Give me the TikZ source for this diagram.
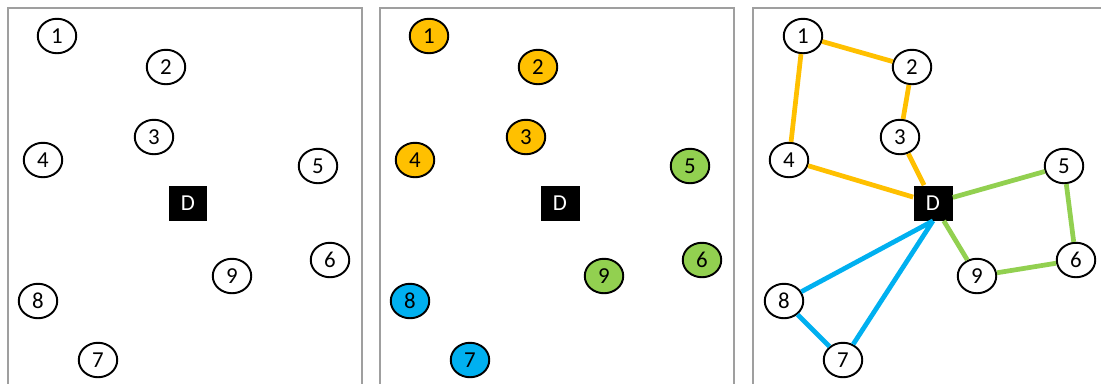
\documentclass[tikz,border=0pt]{standalone}
\usepackage{fontspec}
\setmainfont{Carlito}
\usetikzlibrary{shapes.geometric}
\definecolor{routeorange}{HTML}{FFC000}
\definecolor{routegreen}{HTML}{92D050}
\definecolor{routeblue}{HTML}{00B0F0}

\begin{document}
\begin{tikzpicture}[
    x=0.02cm, y=-0.02cm,
    customer/.style={ellipse, draw, line width=1.1pt, fill=white, minimum width=0.77cm, minimum height=0.69cm, inner sep=0pt, font=\fontsize{13}{15}\selectfont},
    depot/.style={rectangle, fill=black, text=white, minimum width=0.78cm, minimum height=0.7cm, inner sep=0pt, font=\fontsize{13}{15}\selectfont},
    panel/.style={draw=gray!75, line width=0.8pt},
    route/.style={line width=2.7pt}
]
\clip (0,0) rectangle (1101,383);
\fill[white] (0,0) rectangle (1101,383);

% Panels
\draw[panel] (8,400) -- (8,8) -- (362,8) -- (362,400);
\draw[panel] (380,400) -- (380,8) -- (734,8) -- (734,400);
\draw[panel] (753,400) -- (753,8) -- (1107,8) -- (1107,400);

% Panel 1: customers and depot
\node[depot] (aD) at (188,203) {D};
\node[customer] (a1) at (57,36) {1};
\node[customer] (a2) at (166,67) {2};
\node[customer] (a3) at (154,137) {3};
\node[customer] (a4) at (43,160) {4};
\node[customer] (a5) at (318,166) {5};
\node[customer] (a6) at (330,260) {6};
\node[customer] (a7) at (98,360) {7};
\node[customer] (a8) at (38,301) {8};
\node[customer] (a9) at (232,276) {9};

% Panel 2: clusters
\node[depot] (bD) at (560,203) {D};
\node[customer, fill=routeorange] (b1) at (429,36) {1};
\node[customer, fill=routeorange] (b2) at (538,67) {2};
\node[customer, fill=routeorange] (b3) at (526,137) {3};
\node[customer, fill=routeorange] (b4) at (415,160) {4};
\node[customer, fill=routegreen] (b5) at (690,166) {5};
\node[customer, fill=routegreen] (b6) at (702,260) {6};
\node[customer, fill=routeblue] (b7) at (470,360) {7};
\node[customer, fill=routeblue] (b8) at (410,301) {8};
\node[customer, fill=routegreen] (b9) at (604,276) {9};

% Panel 3: routes
\node[depot] (cD) at (933,203) {D};
\node[customer] (c1) at (803,36) {1};
\node[customer] (c2) at (912,67) {2};
\node[customer] (c3) at (900,137) {3};
\node[customer] (c4) at (789,160) {4};
\node[customer] (c5) at (1064,166) {5};
\node[customer] (c6) at (1076,260) {6};
\node[customer] (c7) at (843,360) {7};
\node[customer] (c8) at (784,301) {8};
\node[customer] (c9) at (977,276) {9};

% Routes
\draw[route, routeorange] (cD) -- (c3) -- (c2) -- (c1) -- (c4) -- (cD);
\draw[route, routegreen] (cD) -- (c5) -- (c6) -- (c9) -- (cD);
\draw[route, routeblue] (cD.south) -- (c8) -- (c7) -- (cD.south);
\end{tikzpicture}
\end{document}
